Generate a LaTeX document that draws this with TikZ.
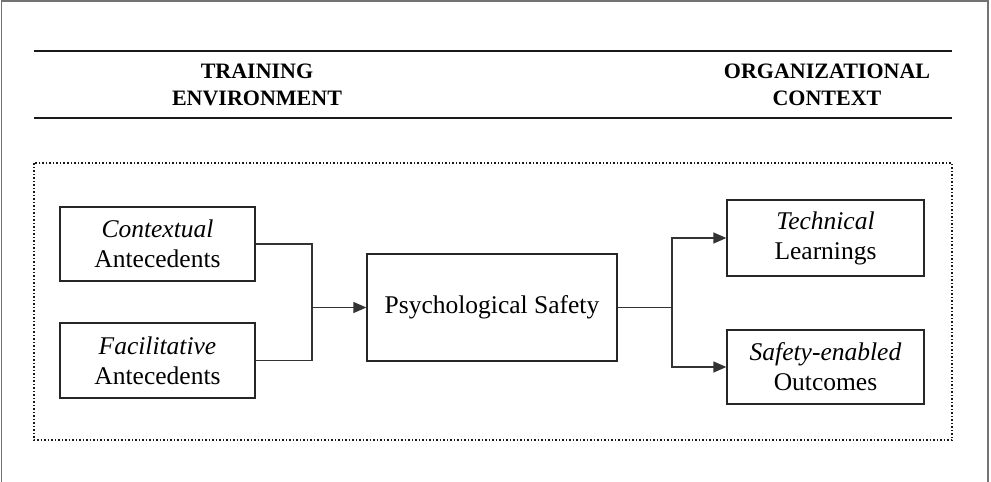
\documentclass[tikz,border=0pt]{standalone}
\usepackage{fontspec}
\setmainfont{Liberation Serif}
\usetikzlibrary{arrows.meta}
\begin{document}
\begin{tikzpicture}[x=1pt,y=-1pt,
  box/.style={draw=black!85,line width=1.3pt,inner sep=0pt,align=center,
    font=\fontsize{25.5}{30}\selectfont},
  head/.style={align=center,font=\bfseries\fontsize{22}{27}\selectfont},
  link/.style={draw=black!80,line width=1.3pt},
  arr/.style={link,-{Triangle[length=13pt,width=11pt]}}]
\useasboundingbox (0,0) rectangle (991,482);
% outer frame
\draw[black!55,line width=1.4pt] (1.5,482) -- (1.5,1) -- (988,1) -- (988,482);
% header rules and titles
\draw[black!90,line width=1.3pt] (34,51) -- (952,51);
\draw[black!90,line width=1.3pt] (34,118) -- (952,118);
\node[head] (train) at (257,84.5) {TRAINING\\ENVIRONMENT};
\node[head] (org) at (827,84.5) {ORGANIZATIONAL\\CONTEXT};
% dotted frame
\draw[black!90,line width=1.5pt,dotted] (34,163) rectangle (952,440);
% boxes
\node[box,minimum width=195pt,minimum height=74pt] (ctx) at (157.5,244) {\textit{Contextual}\\Antecedents};
\node[box,minimum width=195pt,minimum height=75pt] (fac) at (157.5,360.5) {\textit{Facilitative}\\Antecedents};
\node[box,minimum width=250pt,minimum height=107pt] (ps) at (492,307.5) {Psychological Safety};
\node[box,minimum width=197pt,minimum height=76pt] (tech) at (825.5,238) {\textit{Technical}\\Learnings};
\node[box,minimum width=197pt,minimum height=74pt] (safe) at (825.5,367) {\textit{Safety-enabled}\\Outcomes};
% connectors
\coordinate (jl) at (312,307.5);
\coordinate (jr) at (672,307.5);
\draw[link] (ctx.east) -| (jl) |- (fac.east);
\draw[arr] (jl) -- (ps.west);
\draw[link] (ps.east) -- (jr);
\draw[arr] (jr) |- (tech.west);
\draw[arr] (jr) |- (safe.west);
\end{tikzpicture}
\end{document}
